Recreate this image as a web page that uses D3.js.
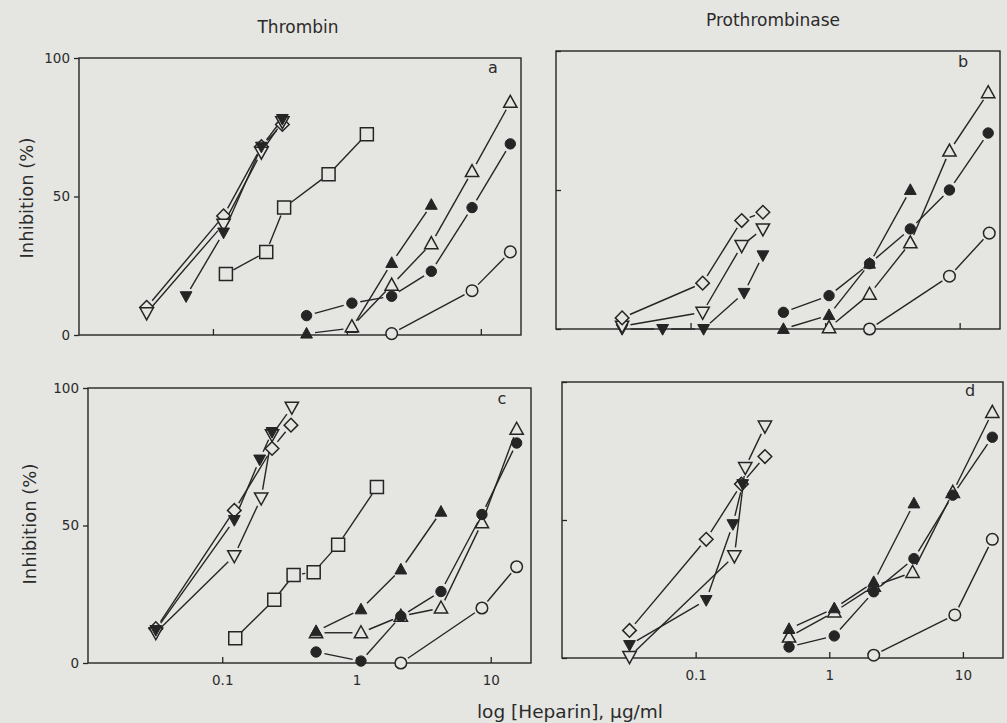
<!DOCTYPE html>
<html>
<head>
<meta charset="utf-8">
<script src="https://cdn.jsdelivr.net/npm/d3@7"></script>
<style>
  html, body { margin: 0; padding: 0; background: #e5e5e2; }
  svg { display: block; }
  text { font-family: "DejaVu Sans", "Noto Sans", sans-serif; fill: #2b2b2b; }
</style>
</head>
<body>
<svg id="chart" width="1007" height="723"></svg>
<script>
// ---------------- data ----------------
const panelTitles = ["Thrombin", "Prothrombinase"];
const panelLetters = ["a", "b", "c", "d"];
const xTickValues = [0.1, 1, 10];
const xTickLabels = ["0.1", "1", "10"];
const yTickValues = [0, 50, 100];
const yTickLabels = ["0", "50", "100"];
const xAxisTitle = "log [Heparin], \u03bcg/ml";
const yAxisTitle = "Inhibition (%)";
const seriesMarkers = ["openDiamond", "openDown", "filledDown", "openSquare",
                       "openCircle", "openTri", "filledTri", "filledCircle"];

// panel a (Thrombin, top)
const a_openDiamond  = [[0.032, 10], [0.12, 43], [0.23, 68], [0.33, 76]];
const a_openDown     = [[0.032, 8], [0.12, 40], [0.23, 66], [0.33, 77]];
const a_filledDown   = [[0.063, 14], [0.12, 37], [0.23, 68], [0.33, 78]];
const a_openSquare   = [[0.125, 22], [0.25, 30], [0.34, 46], [0.73, 58], [1.41, 72.5]];
const a_openCircle   = [[2.16, 0.5], [8.6, 16], [16.6, 30]];
const a_openTri      = [[1.09, 3], [2.16, 18], [4.27, 33], [8.6, 59], [16.6, 84]];
const a_filledTri    = [[0.5, 0.5], [1.09, 2.5], [2.16, 26], [4.27, 47]];
const a_filledCircle = [[0.5, 7], [1.09, 11.5], [2.16, 14], [4.27, 23], [8.6, 46], [16.6, 69]];

// panel b (Prothrombinase, top)
const b_openDiamond  = [[0.031, 4], [0.123, 16.5], [0.24, 39], [0.345, 42]];
const b_openDown     = [[0.031, 1], [0.123, 6], [0.24, 30], [0.345, 36]];
const b_filledDown   = [[0.031, 0], [0.062, 0], [0.125, 0], [0.25, 13], [0.345, 26.5]];
const b_openSquare   = [];
const b_openCircle   = [[2.14, 0], [8.4, 19], [16.6, 34.5]];
const b_openTri      = [[1.07, 0.5], [2.14, 12.5], [4.3, 31], [8.4, 64], [16.3, 85]];
const b_filledTri    = [[0.49, 0], [1.07, 5], [2.14, 23.5], [4.3, 50]];
const b_filledCircle = [[0.49, 6], [1.07, 12], [2.14, 23.5], [4.3, 36], [8.4, 50], [16.3, 70.5]];

// panel c (Thrombin, bottom)
const c_openDiamond  = [[0.032, 12.5], [0.123, 55.5], [0.235, 78], [0.325, 86.5]];
const c_openDown     = [[0.032, 11], [0.123, 39], [0.195, 60], [0.235, 83], [0.33, 93]];
const c_filledDown   = [[0.032, 12], [0.123, 52], [0.19, 74], [0.235, 84]];
const c_openSquare   = [[0.125, 9], [0.244, 23], [0.34, 32], [0.48, 33], [0.73, 43], [1.42, 64]];
const c_openCircle   = [[2.14, 0], [8.6, 20], [15.6, 35]];
const c_openTri      = [[0.5, 11], [1.08, 11], [2.14, 17], [4.26, 20], [8.6, 51], [15.6, 85]];
const c_filledTri    = [[0.5, 11.5], [1.08, 19.5], [2.14, 34], [4.26, 55]];
const c_filledCircle = [[0.5, 4], [1.08, 0.7], [2.14, 17], [4.26, 26], [8.6, 54], [15.6, 80]];

// panel d (Prothrombinase, bottom)
const d_openDiamond  = [[0.032, 10], [0.12, 43], [0.22, 63], [0.33, 73]];
const d_openDown     = [[0.032, 0.5], [0.195, 37], [0.235, 69], [0.33, 84]];
const d_filledDown   = [[0.032, 4.7], [0.12, 21], [0.19, 48.5], [0.225, 63]];
const d_openSquare   = [];
const d_openCircle   = [[2.15, 1], [8.7, 15.6], [16.6, 43]];
const d_openTri      = [[0.5, 7.6], [1.09, 16.7], [2.15, 26], [4.2, 31], [8.4, 60], [16.6, 89]];
const d_filledTri    = [[0.5, 10.5], [1.09, 18], [2.15, 27.5], [4.3, 56]];
const d_filledCircle = [[0.5, 4], [1.09, 8], [2.15, 24], [4.3, 36], [8.4, 59], [16.6, 80]];

// ---------------- layout ----------------
const INK = "#252525";
const BG = "#e5e5e2";
const svg = d3.select("#chart");
svg.append("rect").attr("width", 1007).attr("height", 723).attr("fill", BG);

const panels = [
  {letter: panelLetters[0], box: [79, 58, 521, 335], yLabels: true, xLabels: false, yTickIn: false,
   series: [a_openDiamond, a_openDown, a_filledDown, a_openSquare, a_openCircle, a_openTri, a_filledTri, a_filledCircle],
   order: [0, 1, 3, 4, 2, 6, 5, 7],
   letterPos: [493, 73]},
  {letter: panelLetters[1], box: [556, 51, 1000, 329], yLabels: false, xLabels: false, yTickIn: true,
   series: [b_openDiamond, b_openDown, b_filledDown, b_openSquare, b_openCircle, b_openTri, b_filledTri, b_filledCircle],
   order: [2, 1, 0, 3, 4, 5, 6, 7],
   letterPos: [963, 67]},
  {letter: panelLetters[2], box: [88, 388, 531, 663], yLabels: true, xLabels: true, yTickIn: false,
   series: [c_openDiamond, c_openDown, c_filledDown, c_openSquare, c_openCircle, c_openTri, c_filledTri, c_filledCircle],
   order: [0, 1, 3, 4, 5, 2, 6, 7],
   letterPos: [502, 404]},
  {letter: panelLetters[3], box: [562, 382, 1003, 658], yLabels: false, xLabels: true, yTickIn: true,
   series: [d_openDiamond, d_openDown, d_filledDown, d_openSquare, d_openCircle, d_openTri, d_filledTri, d_filledCircle],
   order: [0, 1, 3, 4, 5, 2, 6, 7],
   letterPos: [970, 396]}
];

function markerPath(type) {
  const p = d3.path();
  if (type.endsWith("Circle")) {
    const r = type.startsWith("open") ? 5.8 : 5.2;
    p.arc(0, 0, r, 0, 2 * Math.PI);
  } else if (type === "openSquare") {
    const s = 6.5;
    p.rect(-s, -s, 2 * s, 2 * s);
  } else if (type === "openDiamond") {
    const s = 6.8;
    p.moveTo(0, -s); p.lineTo(s, 0); p.lineTo(0, s); p.lineTo(-s, 0); p.closePath();
  } else if (type.endsWith("Tri")) {
    const s = type.startsWith("open") ? 7 : 6.2;
    p.moveTo(0, -s); p.lineTo(s * 0.95, s * 0.72); p.lineTo(-s * 0.95, s * 0.72); p.closePath();
  } else if (type.endsWith("Down")) {
    const s = type.startsWith("open") ? 7 : 6.2;
    p.moveTo(0, s); p.lineTo(s * 0.95, -s * 0.72); p.lineTo(-s * 0.95, -s * 0.72); p.closePath();
  }
  return p.toString();
}

const GAP = 8.5;

panels.forEach((pn) => {
  const [x0, y0, x1, y1] = pn.box;
  const x = d3.scaleLog().domain([0.01, Math.pow(10, 1.3)]).range([x0, x1]);
  const y = d3.scaleLinear().domain([0, 100]).range([y1, y0]);
  const g = svg.append("g");

  // frame
  g.append("rect").attr("x", x0).attr("y", y0).attr("width", x1 - x0).attr("height", y1 - y0)
    .attr("fill", "none").attr("stroke", INK).attr("stroke-width", 1.4);

  // x ticks (inward)
  const xAxis = d3.axisTop(x).tickValues(xTickValues).tickSize(6)
    .tickFormat((d, i) => pn.xLabels ? xTickLabels[i] : "");
  const gx = g.append("g").attr("transform", `translate(0,${y1})`).call(xAxis);
  gx.select(".domain").remove();
  gx.selectAll(".tick line").attr("stroke", INK).attr("stroke-width", 1.3);
  gx.selectAll(".tick text").attr("y", 22).attr("dy", 0).attr("font-size", 13.5)
    .attr("fill", "#2b2b2b").attr("font-family", "DejaVu Sans");

  // y ticks
  const yAxis = (pn.yTickIn ? d3.axisRight(y) : d3.axisLeft(y))
    .tickValues(yTickValues).tickSize(5)
    .tickFormat((d, i) => pn.yLabels ? yTickLabels[i] : "");
  const gy = g.append("g").attr("transform", `translate(${x0},0)`).call(yAxis);
  gy.select(".domain").remove();
  gy.selectAll(".tick line").attr("stroke", INK).attr("stroke-width", 1.3);
  gy.selectAll(".tick text").attr("x", -9).attr("font-size", 13.5)
    .attr("fill", "#2b2b2b").attr("font-family", "DejaVu Sans");

  // lines with gaps around markers
  pn.series.forEach((pts) => {
    for (let i = 0; i + 1 < pts.length; i++) {
      const ax = x(pts[i][0]), ay = y(pts[i][1]);
      const bx = x(pts[i + 1][0]), by = y(pts[i + 1][1]);
      const L = Math.hypot(bx - ax, by - ay);
      if (L <= 2 * GAP + 1) continue;
      const ux = (bx - ax) / L, uy = (by - ay) / L;
      g.append("line")
        .attr("x1", ax + ux * GAP).attr("y1", ay + uy * GAP)
        .attr("x2", bx - ux * GAP).attr("y2", by - uy * GAP)
        .attr("stroke", INK).attr("stroke-width", 1.4);
    }
  });

  // markers
  pn.order.forEach((si) => {
    const type = seriesMarkers[si];
    const open = type.startsWith("open");
    g.selectAll(null).data(pn.series[si]).enter().append("path")
      .attr("d", markerPath(type))
      .attr("transform", d => `translate(${x(d[0])},${y(d[1])})`)
      .attr("fill", open ? BG : INK)
      .attr("stroke", INK)
      .attr("stroke-width", open ? 1.5 : 1);
  });

  // panel letter
  g.append("text").attr("x", pn.letterPos[0]).attr("y", pn.letterPos[1])
    .attr("text-anchor", "middle").attr("font-size", 16).text(pn.letter);
});

// titles
svg.append("text").attr("x", 298).attr("y", 33).attr("text-anchor", "middle")
  .attr("font-size", 17).text(panelTitles[0]);
svg.append("text").attr("x", 773).attr("y", 26).attr("text-anchor", "middle")
  .attr("font-size", 17).text(panelTitles[1]);

// y axis titles
[[27, 198], [30, 524]].forEach(([cx, cy]) => {
  svg.append("text").attr("transform", `translate(${cx + 6},${cy}) rotate(-90)`)
    .attr("text-anchor", "middle").attr("font-size", 18).text(yAxisTitle);
});

// x axis title
svg.append("text").attr("x", 570).attr("y", 718).attr("text-anchor", "middle")
  .attr("font-size", 18.5).text(xAxisTitle);
</script>
</body>
</html>
